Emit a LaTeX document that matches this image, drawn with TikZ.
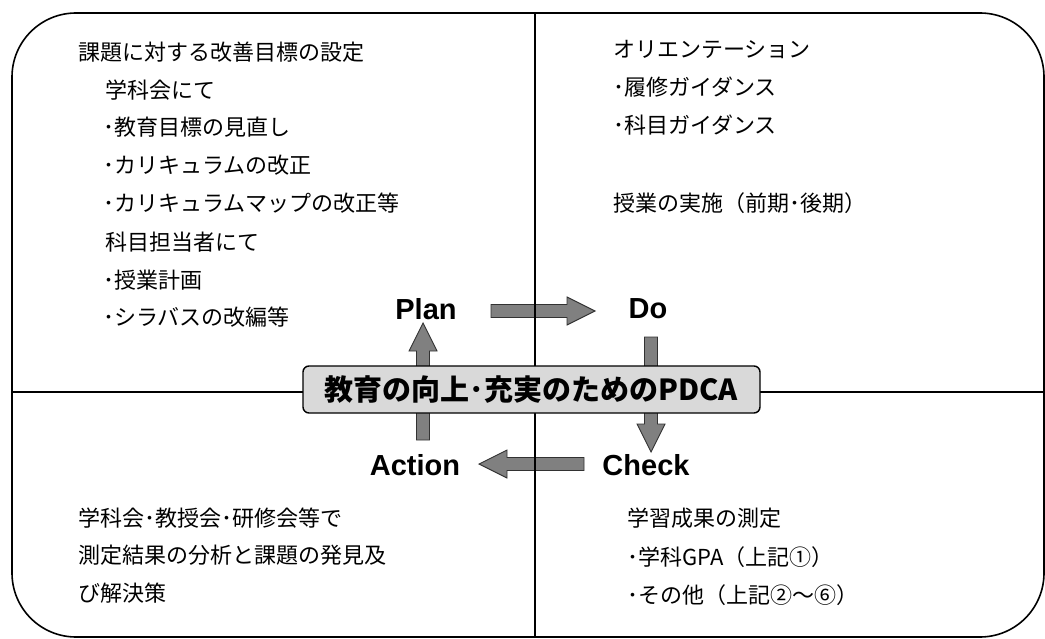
\documentclass[tikz,border=0pt]{standalone}
\usepackage{fontspec}
\newfontfamily\jp{Noto Sans CJK JP}
\newfontfamily\lab{Liberation Sans}
\definecolor{arrowgray}{RGB}{128,128,128}
\definecolor{arrowline}{RGB}{50,50,50}
\definecolor{boxgray}{RGB}{217,217,217}
\begin{document}
\begin{tikzpicture}[x=1pt,y=-1pt,
  body/.style={anchor=west, inner sep=0pt, text height=19.4pt, text depth=2.6pt,
    font=\jp\fontsize{22}{22}\selectfont},
  phase/.style={inner sep=0pt, font=\lab\bfseries\fontsize{29}{29}\selectfont},
  blockarrow/.style={draw=arrowline, fill=arrowgray, line width=0.9pt, line join=miter},
  divider/.style={line width=1.2pt, draw=black},
  pics/barrow/.style={code={
    \path[blockarrow] (0,-6.5) -- ({#1-28},-6.5) -- ({#1-28},-14) -- (#1,0)
      -- ({#1-28},14) -- ({#1-28},6.5) -- (0,6.5) -- cycle;}}
]
\useasboundingbox (0,0) rectangle (1045,639);

% outer frame and dividers
\draw[line width=1.6pt, rounded corners=64pt] (12,13) rectangle (1044,637);
\coordinate (vt) at (535,13);
\coordinate (vb) at (535,637);
\coordinate (hl) at (12,392);
\coordinate (hr) at (1044,392);

% block arrows
\pic at (491,311) {barrow=104};
\pic[rotate=-90] at (651,337) {barrow=115};
\pic[rotate=180] at (584,464) {barrow=105};
\pic[rotate=90] at (423,440) {barrow=117};

\draw[divider] (vt) -- (vb);
\draw[divider] (hl) -- (hr);

% centre title
\node[draw=black, line width=1.4pt, fill=boxgray, rounded corners=6pt,
  minimum width=457pt, minimum height=47pt, inner sep=0pt,
  font=\jp\bfseries\fontsize{29}{29}\selectfont] (title) at (531.5,389.5)
  {教育の向上･充実のためのPDCA};

% phase labels
\node[phase] (plan) at (426,309) {Plan};
\node[phase] (do) at (648,309) {Do};
\node[phase] (check) at (646,465) {Check};
\node[phase] (action) at (415,465) {Action};

% top-left block
\node[body] (p1) at (78,51.7) {課題に対する改善目標の設定};
\node[body] (p2) at (105,90) {学科会にて};
\node[body] (p3) at (103,127) {･教育目標の見直し};
\node[body] (p4) at (103,165) {･カリキュラムの改正};
\node[body] (p5) at (103,203) {･カリキュラムマップの改正等};
\node[body] (p6) at (105,242) {科目担当者にて};
\node[body] (p7) at (103,280) {･授業計画};
\node[body] (p8) at (103,317) {･シラバスの改編等};

% top-right block
\node[body] (d1) at (613,49) {オリエンテーション};
\node[body] (d2) at (613,87) {･履修ガイダンス};
\node[body] (d3) at (613,125) {･科目ガイダンス};
\node[body] (d4) at (613,203) {授業の実施（前期･後期）};

% bottom-left block
\node[body] (a1) at (78,518) {学科会･教授会･研修会等で};
\node[body] (a2) at (78,555) {測定結果の分析と課題の発見及};
\node[body] (a3) at (78,593) {び解決策};

% bottom-right block
\node[body] (c1) at (627,518) {学習成果の測定};
\node[body] (c2) at (627,557) {･学科GPA（上記①）};
\node[body] (c3) at (627,595) {･その他（上記②～⑥）};
\end{tikzpicture}
\end{document}
